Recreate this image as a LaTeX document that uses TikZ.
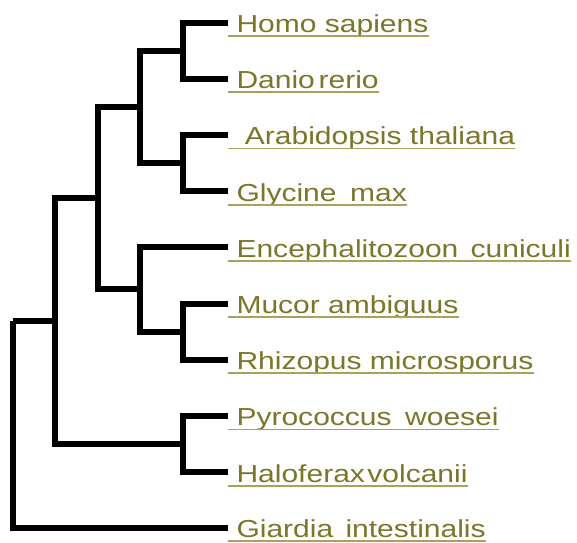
\documentclass[tikz,border=0pt]{standalone}
\usepackage{fontspec}
\setmainfont[FakeStretch=1.22]{Liberation Sans}
\usepackage{tikz}
\usetikzlibrary{positioning}
\definecolor{taxonolive}{RGB}{122, 118, 42}
\definecolor{linkolive}{RGB}{168, 163, 92}

\begin{document}
\begin{tikzpicture}[x=1pt, y=-1pt,
    branch/.style={black, line width=6pt, line cap=butt, line join=miter},
    taxon/.style={anchor=base west, inner sep=0pt, text=taxonolive, font=\fontsize{24.6}{28}\selectfont},
    uline/.style={linkolive, line width=1.8pt}]
    \useasboundingbox (0,0) rectangle (577,542);
    % leaf ends
    \coordinate (homo) at (228,22.5);
    \coordinate (danio) at (228,78.7);
    \coordinate (arab) at (228,134.9);
    \coordinate (glyc) at (228,191.1);
    \coordinate (ence) at (228,247.3);
    \coordinate (muco) at (228,303.5);
    \coordinate (rhiz) at (228,359.7);
    \coordinate (pyro) at (228,415.9);
    \coordinate (halo) at (228,472.1);
    \coordinate (giar) at (228,527.6);
    % inner nodes
    \coordinate (hd) at (183,50.6);
    \coordinate (ag) at (183,163);
    \coordinate (hdag) at (140,106.8);
    \coordinate (mr) at (183,331.6);
    \coordinate (emr) at (140,289.4);
    \coordinate (euk) at (98,198.1);
    \coordinate (ph) at (183,444);
    \coordinate (core) at (55,321);
    \coordinate (root) at (13,321);

    \draw[branch] (hd) |- (homo);
    \draw[branch] (hd) |- (danio);
    \draw[branch] (ag) |- (arab);
    \draw[branch] (ag) |- (glyc);
    \draw[branch] (hdag) |- (hd);
    \draw[branch] (hdag) |- (ag);
    \draw[branch] (mr) |- (muco);
    \draw[branch] (mr) |- (rhiz);
    \draw[branch] (emr) |- (ence);
    \draw[branch] (emr) |- (mr);
    \draw[branch] (euk) |- (hdag);
    \draw[branch] (euk) |- (emr);
    \draw[branch] (ph) |- (pyro);
    \draw[branch] (ph) |- (halo);
    \draw[branch] (core) |- (euk);
    \draw[branch] (core) |- (ph);
    \draw[branch] (root) -- (core);
    \draw[branch] (root) |- (giar);

    % labels
    \node[taxon] (homo-l) at ([yshift=-10pt]homo) {\ Homo sapiens};
    \node[taxon] (danio-l) at ([yshift=-10pt]danio) {\ Danio\hspace{.15em}rerio};
    \node[taxon] (arab-l) at ([yshift=-10pt]arab) {\ \ Arabidopsis thaliana};
    \node[taxon] (glyc-l) at ([yshift=-10pt]glyc) {\ Glycine\hspace{.55em}max};
    \node[taxon] (ence-l) at ([yshift=-10pt]ence) {\ Encephalitozoon\hspace{.5em}cuniculi};
    \node[taxon] (muco-l) at ([yshift=-10pt]muco) {\ Mucor ambiguus};
    \node[taxon] (rhiz-l) at ([yshift=-10pt]rhiz) {\ Rhizopus microsporus};
    \node[taxon] (pyro-l) at ([yshift=-10pt]pyro) {\ Pyrococcus\hspace{.55em}woesei};
    \node[taxon] (halo-l) at ([yshift=-10pt]halo) {\ Haloferax\hspace{.1em}volcanii};
    \node[taxon] (giar-l) at ([yshift=-10pt]giar) {\ Giardia\hspace{.5em}intestinalis};

    \draw[uline] ([yshift=-3.5pt]homo-l.base west) -- ([yshift=-3.5pt]homo-l.base east);
    \draw[uline] ([yshift=-3.5pt]danio-l.base west) -- ([yshift=-3.5pt]danio-l.base east);
    \draw[uline] ([yshift=-3.5pt]arab-l.base west) -- ([yshift=-3.5pt]arab-l.base east);
    \draw[uline] ([yshift=-3.5pt]glyc-l.base west) -- ([yshift=-3.5pt]glyc-l.base east);
    \draw[uline] ([yshift=-3.5pt]ence-l.base west) -- ([yshift=-3.5pt]ence-l.base east);
    \draw[uline] ([yshift=-3.5pt]muco-l.base west) -- ([yshift=-3.5pt]muco-l.base east);
    \draw[uline] ([yshift=-3.5pt]rhiz-l.base west) -- ([yshift=-3.5pt]rhiz-l.base east);
    \draw[uline] ([yshift=-3.5pt]pyro-l.base west) -- ([yshift=-3.5pt]pyro-l.base east);
    \draw[uline] ([yshift=-3.5pt]halo-l.base west) -- ([yshift=-3.5pt]halo-l.base east);
    \draw[uline] ([yshift=-3.5pt]giar-l.base west) -- ([yshift=-3.5pt]giar-l.base east);
\end{tikzpicture}
\end{document}
